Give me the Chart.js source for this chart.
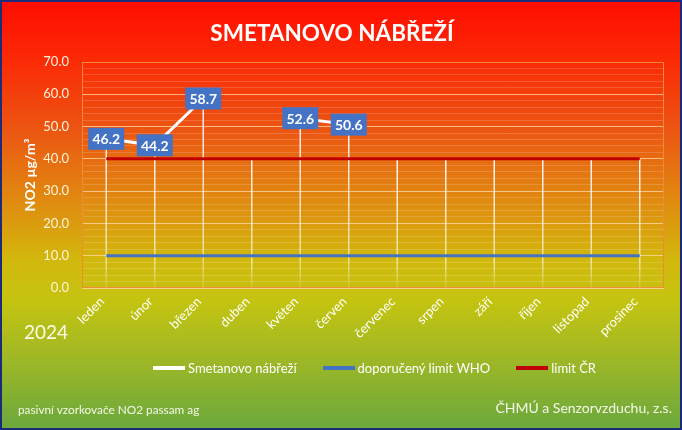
<!DOCTYPE html>
<html>
<head>
    <meta charset="utf-8">
    <title>Smetanovo nábřeží</title>
    <style>
        body {
            margin: 0;
            background: #ffffff;
            font-family: 'Lato', sans-serif;
        }

        .frame {
            position: relative;
            width: 682px;
            height: 430px;
            background: linear-gradient(to bottom,
                #ff0c00 0%, #fb2a06 14%, #ec5512 30%, #e08a10 46.5%,
                #d2b80c 60.5%, #c4c410 70%, #a6ba22 81%, #6aa83e 100%);
            overflow: hidden;
        }

        .frame canvas {
            position: absolute;
            left: 0;
            top: 0;
        }

        .border {
            position: absolute;
            left: 0;
            top: 0;
            width: 682px;
            height: 430px;
            box-sizing: border-box;
            border: 2px solid #1c2a7a;
            pointer-events: none;
        }

        .year {
            position: absolute;
            left: 24px;
            top: 320px;
            font-size: 19px;
            color: #fffbe6;
        }

        .legend {
            position: absolute;
            top: 360px;
            left: 153px;
            display: flex;
            align-items: center;
            font-size: 13px;
            color: #ffffff;
            white-space: nowrap;
        }

        .legend .item {
            display: flex;
            align-items: center;
        }

        .legend .swatch {
            width: 32px;
            height: 4px;
            margin-right: 3px;
        }

        .note {
            position: absolute;
            left: 18px;
            top: 402px;
            font-size: 11.8px;
            color: #f4f8e8;
        }

        .source {
            position: absolute;
            right: 10px;
            top: 399px;
            font-size: 14px;
            color: #f4f8e8;
        }
    </style>
    <script src="https://cdn.jsdelivr.net/npm/chart.js"></script>
</head>
<body>
    <div class="frame">
        <canvas id="chart" width="682" height="430"></canvas>
        <div class="year">2024</div>
        <div class="legend" id="legend"></div>
        <div class="note">pasivní vzorkovače NO2 passam ag</div>
        <div class="source">ČHMÚ a Senzorvzduchu, z.s.</div>
        <div class="border"></div>
    </div>
    <script>
        const months = ['leden', 'únor', 'březen', 'duben', 'květen', 'červen',
                        'červenec', 'srpen', 'září', 'říjen', 'listopad', 'prosinec'];
        const station = [46.2, 44.2, 58.7, null, 52.6, 50.6, null, null, null, null, null, null];
        const whoLimit = [10, 10, 10, 10, 10, 10, 10, 10, 10, 10, 10, 10];
        const czLimit = [40, 40, 40, 40, 40, 40, 40, 40, 40, 40, 40, 40];
        const yTicks = [0, 10, 20, 30, 40, 50, 60, 70];

        // Excel-style drop lines from highest series down to the axis
        const dropLines = {
            id: 'dropLines',
            beforeDatasetsDraw(chart) {
                const ctx = chart.ctx;
                const x = chart.scales.x, y = chart.scales.y;
                const y0 = y.getPixelForValue(0);
                ctx.save();
                months.forEach(function(m, i) {
                    let top = null;
                    chart.data.datasets.forEach(function(ds) {
                        const v = ds.data[i];
                        if (v !== null && (top === null || v > top)) top = v;
                    });
                    if (top === null) return;
                    const px = x.getPixelForValue(i);
                    const py = y.getPixelForValue(top);
                    const g = ctx.createLinearGradient(0, py, 0, y0);
                    g.addColorStop(0, 'rgba(255,255,255,0.95)');
                    g.addColorStop(0.8, 'rgba(255,255,255,0.6)');
                    g.addColorStop(1, 'rgba(255,255,255,0.1)');
                    ctx.strokeStyle = g;
                    ctx.lineWidth = 1.5;
                    ctx.beginPath();
                    ctx.moveTo(px, py);
                    ctx.lineTo(px, y0);
                    ctx.stroke();
                });
                ctx.restore();
            }
        };

        const plotFrame = {
            id: 'plotFrame',
            beforeDatasetsDraw(chart) {
                const a = chart.chartArea;
                const ctx = chart.ctx;
                ctx.save();
                ctx.strokeStyle = '#f08a3c';
                ctx.lineWidth = 1;
                ctx.strokeRect(a.left + 0.5, a.top + 0.5, a.right - a.left - 1, a.bottom - a.top - 1);
                ctx.restore();
            }
        };

        const valueBoxes = {
            id: 'valueBoxes',
            afterDatasetsDraw(chart) {
                const ctx = chart.ctx;
                const meta = chart.getDatasetMeta(0);
                ctx.save();
                ctx.font = 'bold 14px Lato';
                ctx.textAlign = 'center';
                ctx.textBaseline = 'middle';
                station.forEach(function(v, i) {
                    if (v === null) return;
                    const p = meta.data[i];
                    ctx.fillStyle = '#4472c4';
                    ctx.fillRect(p.x - 18, p.y - 11, 36, 22);
                    ctx.fillStyle = '#ffffff';
                    ctx.fillText(v.toFixed(1), p.x, p.y + 1);
                });
                ctx.restore();
            }
        };

        const chart = new Chart(document.getElementById('chart'), {
            type: 'line',
            data: {
                labels: months,
                datasets: [{
                    label: 'Smetanovo nábřeží',
                    data: station,
                    borderColor: '#ffffff',
                    borderWidth: 3,
                    pointRadius: 0,
                    spanGaps: false,
                    order: 0
                }, {
                    label: 'doporučený limit WHO',
                    data: whoLimit,
                    borderColor: '#4472c4',
                    borderWidth: 3,
                    pointRadius: 0,
                    order: 1
                }, {
                    label: 'limit ČR',
                    data: czLimit,
                    borderColor: '#c00000',
                    borderWidth: 3,
                    pointRadius: 0,
                    order: 2
                }]
            },
            options: {
                responsive: false,
                animation: false,
                layout: {
                    padding: { left: 0, right: 18, top: 0, bottom: 82 }
                },
                plugins: {
                    legend: { display: false },
                    tooltip: { enabled: false },
                    title: {
                        display: true,
                        text: 'SMETANOVO NÁBŘEŽÍ',
                        color: '#ffffff',
                        font: { family: 'Lato', size: 22.5, weight: 'bold' },
                        padding: { top: 20, bottom: 15 }
                    }
                },
                scales: {
                    x: {
                        offset: true,
                        grid: { display: false },
                        border: { display: false },
                        ticks: {
                            color: '#ffffff',
                            font: { family: 'Lato', size: 13 },
                            minRotation: 45,
                            maxRotation: 45,
                            autoSkip: false,
                            labelOffset: -4,
                            padding: -2
                        },
                        afterFit(scale) { scale.height = 60; }
                    },
                    y: {
                        min: 0,
                        max: 70,
                        afterBuildTicks(scale) {
                            const t = [];
                            for (let v = 0; v <= 70; v += 2) t.push({ value: v });
                            scale.ticks = t;
                        },
                        grid: {
                            drawTicks: false,
                            color(c) {
                                return yTicks.includes(c.tick.value)
                                    ? 'rgba(255,220,170,0.75)'
                                    : 'rgba(255,255,255,0.16)';
                            }
                        },
                        border: { display: false },
                        ticks: {
                            color: '#fff4d8',
                            font: { family: 'Lato', size: 13 },
                            padding: 13,
                            autoSkip: false,
                            callback(v) {
                                return yTicks.includes(v) ? v.toFixed(1) : '';
                            }
                        },
                        title: {
                            display: true,
                            text: 'NO2 µg/m³',
                            color: '#ffffff',
                            font: { family: 'Lato', size: 14, weight: 'bold' },
                            padding: { top: 22, bottom: 2 }
                        },
                        afterFit(scale) { scale.width = 82; }
                    }
                }
            },
            plugins: [plotFrame, dropLines, valueBoxes]
        });

        // legend built from the datasets
        const legendEl = document.getElementById('legend');
        const gaps = [0, 26, 26];
        chart.data.datasets.forEach(function(ds, i) {
            const item = document.createElement('div');
            item.className = 'item';
            item.style.marginLeft = gaps[i] + 'px';
            const sw = document.createElement('span');
            sw.className = 'swatch';
            sw.style.background = ds.borderColor;
            const txt = document.createElement('span');
            txt.textContent = ds.label;
            item.appendChild(sw);
            item.appendChild(txt);
            legendEl.appendChild(item);
        });
    </script>
</body>
</html>
